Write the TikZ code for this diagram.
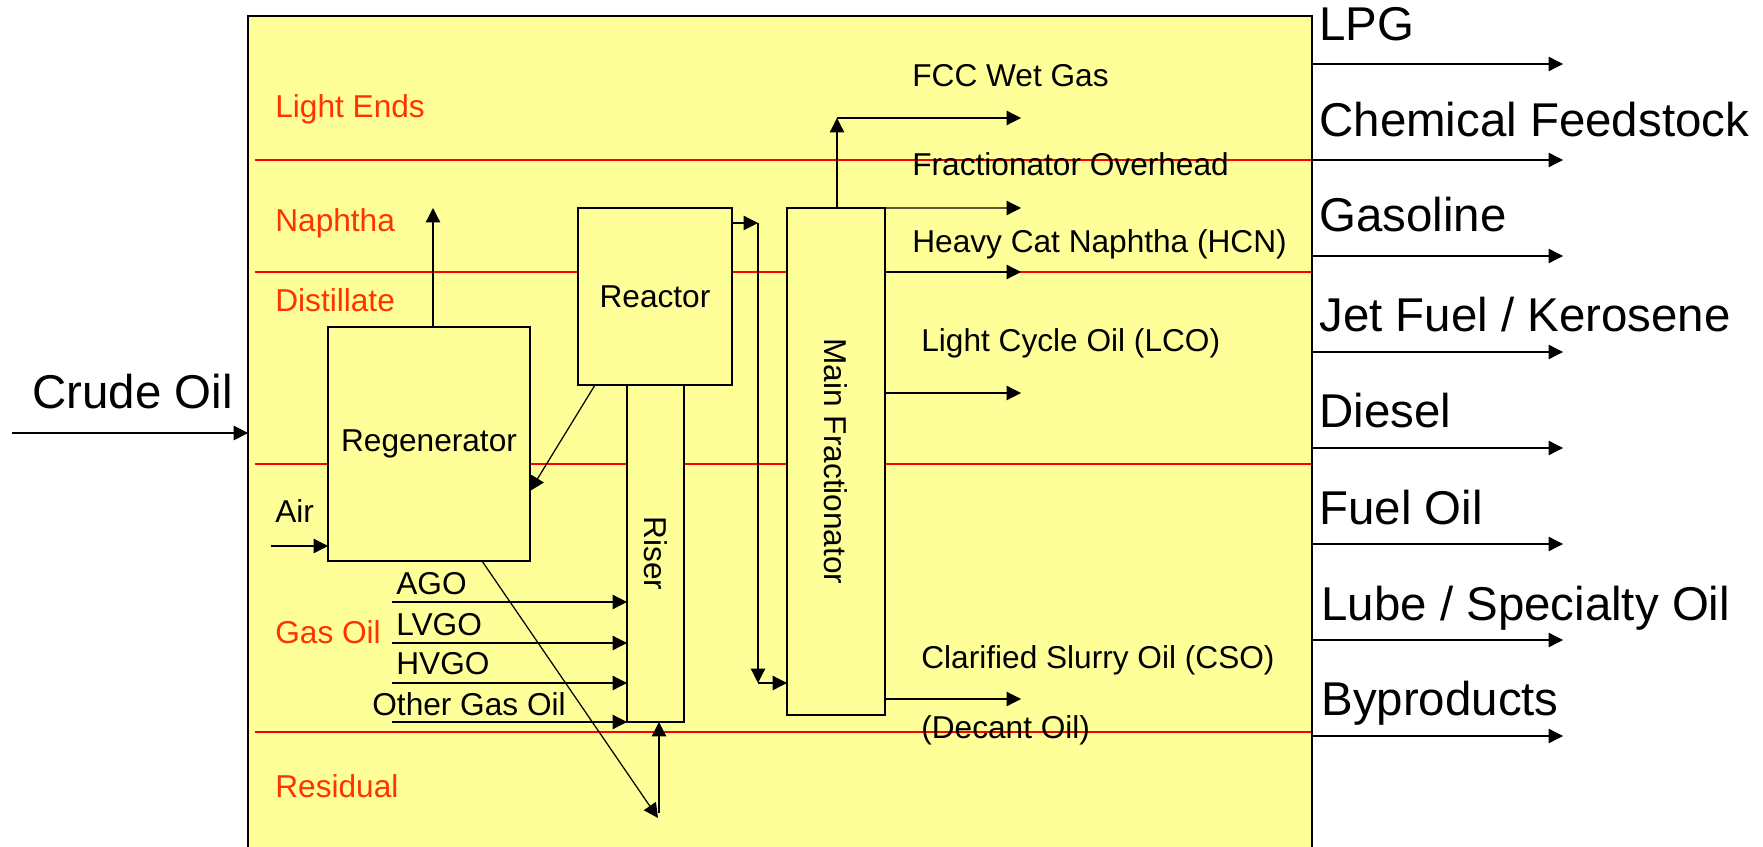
\documentclass[tikz,border=0pt]{standalone}
\usepackage{fontspec}
\setmainfont{Liberation Sans}
\usetikzlibrary{arrows.meta}
\definecolor{unitcolor}{RGB}{255, 255, 153}
\definecolor{cutcolor}{RGB}{255, 0, 0}
\definecolor{cutlabelcolor}{RGB}{255, 51, 0}

\begin{document}
\begin{tikzpicture}[
    x=0.02cm, y=-0.02cm,
    refinery/.style={
        draw=black,
        fill=unitcolor,
        line width=1.1pt,
        inner sep=0pt,
        outer sep=0pt
    },
    unit/.style={
        draw=black,
        fill=unitcolor,
        line width=0.85pt,
        inner sep=0pt,
        outer sep=0pt,
        font=\fontsize{18pt}{21pt}\selectfont
    },
    cut/.style={
        draw=cutcolor,
        line width=0.7pt
    },
    cutname/.style={
        anchor=base west,
        inner sep=0pt,
        text=cutlabelcolor,
        font=\fontsize{18pt}{21pt}\selectfont
    },
    stream/.style={
        anchor=base west,
        inner sep=0pt,
        font=\fontsize{18pt}{21pt}\selectfont
    },
    product/.style={
        anchor=base west,
        inner sep=0pt,
        font=\fontsize{27pt}{32pt}\selectfont
    },
    flow/.style={
        -{Triangle[length=0.29cm, width=0.29cm]},
        line width=0.7pt
    }
]

% Page
\useasboundingbox (0, 0) rectangle (1763, 847);
\clip (0, 0) rectangle (1763, 847);
\fill[white] (0, 0) rectangle (1763, 847);

% ==================== REFINERY BOX ====================
\node[refinery, minimum width=21.28cm, minimum height=17.28cm] (refinery) at (780, 448) {};

% ==================== CUTS ====================
\draw[cut] (255, 160) -- (1311, 160);
\draw[cut] (255, 272) -- (1311, 272);
\draw[cut] (255, 464) -- (1311, 464);
\draw[cut] (255, 732) -- (1311, 732);

\node[cutname] (lightends) at (275, 118) {Light Ends};
\node[cutname] (naphtha) at (275, 232) {Naphtha};
\node[cutname] (distillate) at (275, 312) {Distillate};
\node[cutname] (gasoil) at (275, 643) {Gas Oil};
\node[cutname] (residual) at (275, 797) {Residual};

% ==================== FCC UNITS ====================
% (riser and fract are turned: their south side faces left)
\node[unit, minimum width=4.04cm, minimum height=4.68cm] (regen) at (429, 444) {Regenerator};
\node[unit, minimum width=3.08cm, minimum height=3.54cm] (reactor) at (655, 296.5) {Reactor};
\node[unit, rotate=-90, minimum width=6.74cm, minimum height=1.14cm] (riser) at (655.5, 553.5) {Riser};
\node[unit, rotate=-90, minimum width=10.14cm, minimum height=1.96cm] (fract) at (836, 461.5) {Main Fractionator};

% ==================== FEEDS ====================
\node[product, anchor=base east] (crude) at (233, 408) {Crude Oil};
\coordinate (crudein) at (12, 433);
\draw[flow] (crudein) -- (refinery.west |- crudein);

\node[stream] (air) at (275, 522) {Air};
\coordinate (airin) at (271, 546);
\draw[flow] (airin) -- (regen.west |- airin);

\node[stream] (ago) at (396, 594) {AGO};
\node[stream] (lvgo) at (396, 635) {LVGO};
\node[stream] (hvgo) at (396, 674) {HVGO};
\node[stream] (othergo) at (372, 715) {Other Gas Oil};
\coordinate (agoin) at (392, 602);
\coordinate (lvgoin) at (392, 643);
\coordinate (hvgoin) at (392, 683);
\coordinate (othergoin) at (392, 722);
\draw[flow] (agoin) -- (riser.south |- agoin);
\draw[flow] (lvgoin) -- (riser.south |- lvgoin);
\draw[flow] (hvgoin) -- (riser.south |- hvgoin);
\draw[flow] (othergoin) -- (riser.south |- othergoin);

% ==================== CATALYST LOOP ====================
\coordinate (fluegas) at (433, 208);
\draw[flow] (regen.north -| fluegas) -- (fluegas);

\coordinate (spentin) at (530, 491);
\draw[flow] ([xshift=0.34cm]reactor.south west) -- (spentin);

\coordinate (regencat) at (658, 818);
\draw[flow] ([xshift=1.06cm]regen.south) -- (regencat);
\coordinate (catlift) at (659, 813);
\draw[flow] (catlift) -- (catlift |- riser.east);

% ==================== REACTOR VAPOUR ====================
\coordinate (vapour) at (758, 223);
\coordinate (vapourdown) at (758, 683);
\draw[flow] (reactor.east |- vapour) -- (vapour);
\draw[flow] (vapour) -- (vapourdown);
\draw[flow] (vapourdown) -- (fract.south |- vapourdown);

% ==================== FRACTIONATOR PRODUCTS ====================
\coordinate (wetgasturn) at (837, 118);
\coordinate (wetgasout) at (1021, 118);
\draw[flow] (fract.west -| wetgasturn) -- (wetgasturn);
\draw[flow] (wetgasturn) -- (wetgasout);
\node[stream] (wetgas) at (912, 87) {FCC Wet Gas};

\coordinate (overheadout) at (1021, 208);
\draw[flow] (fract.north west) -- (overheadout);
\node[stream] (overhead) at (912, 176) {Fractionator Overhead};

\coordinate (hcnout) at (1021, 272);
\draw[flow] (fract.north |- hcnout) -- (hcnout);
\node[stream] (hcn) at (912, 253) {Heavy Cat Naphtha (HCN)};

\coordinate (lcoout) at (1021, 393);
\draw[flow] (fract.north |- lcoout) -- (lcoout);
\node[stream] (lco) at (921, 352) {Light Cycle Oil (LCO)};

\coordinate (csoout) at (1021, 699);
\draw[flow] (fract.north |- csoout) -- (csoout);
\node[stream] (cso) at (921, 668) {Clarified Slurry Oil (CSO)};
\node[stream] (decant) at (921, 738) {(Decant Oil)};

% ==================== REFINERY PRODUCTS ====================
\coordinate (lpgout) at (1563, 64);
\coordinate (chemout) at (1563, 160);
\coordinate (gasolineout) at (1563, 256);
\coordinate (jetout) at (1563, 352);
\coordinate (dieselout) at (1563, 448);
\coordinate (fueloilout) at (1563, 544);
\coordinate (lubeout) at (1563, 640);
\coordinate (byprodout) at (1563, 736);
\draw[flow] (refinery.east |- lpgout) -- (lpgout);
\draw[flow] (refinery.east |- chemout) -- (chemout);
\draw[flow] (refinery.east |- gasolineout) -- (gasolineout);
\draw[flow] (refinery.east |- jetout) -- (jetout);
\draw[flow] (refinery.east |- dieselout) -- (dieselout);
\draw[flow] (refinery.east |- fueloilout) -- (fueloilout);
\draw[flow] (refinery.east |- lubeout) -- (lubeout);
\draw[flow] (refinery.east |- byprodout) -- (byprodout);

\node[product] (lpg) at (1319, 41) {LPG};
\node[product] (chem) at (1319, 137) {Chemical Feedstock};
\node[product] (gasoline) at (1319, 232) {Gasoline};
\node[product] (jet) at (1319, 332) {Jet Fuel / Kerosene};
\node[product] (diesel) at (1319, 427) {Diesel};
\node[product] (fueloil) at (1319, 524) {Fuel Oil};
\node[product] (lube) at (1321, 620) {Lube / Specialty Oil};
\node[product] (byprod) at (1321, 715) {Byproducts};

\end{tikzpicture}
\end{document}
